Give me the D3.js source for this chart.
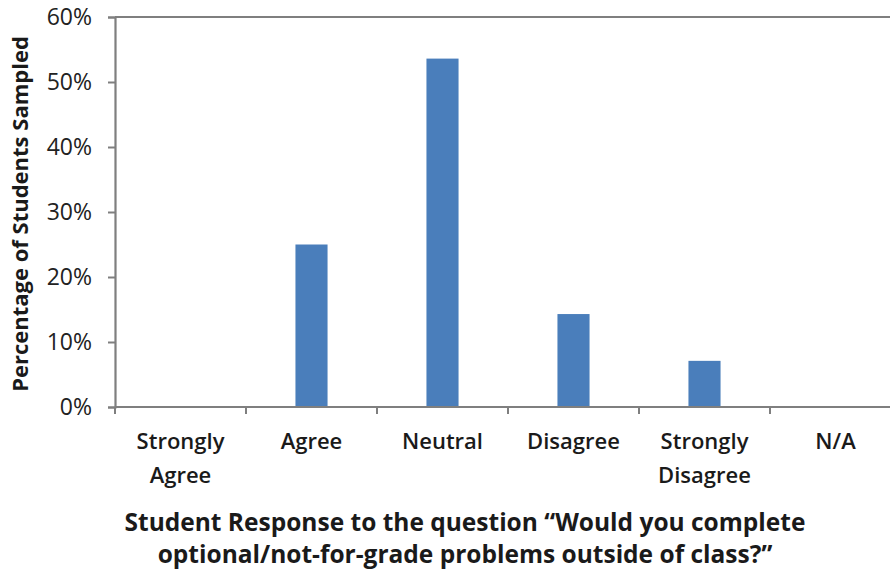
<!DOCTYPE html>
<html>
<head>
<meta charset="utf-8">
<script src="https://cdn.jsdelivr.net/npm/d3@7"></script>
<style>
  html, body { margin: 0; padding: 0; background: #fff; }
  svg { display: block; }
  text { font-family: "Open Sans", "DejaVu Sans", sans-serif; fill: #1a1a1a; }
</style>
</head>
<body>
<svg id="chart" width="890" height="577"></svg>
<script>
// Survey responses (share of 28 students sampled)
const categories = [["Strongly", "Agree"], ["Agree"], ["Neutral"], ["Disagree"], ["Strongly", "Disagree"], ["N/A"]];
const values = [0, 0.25, 0.536, 0.143, 0.071, 0];
const yTicks = [0, 0.1, 0.2, 0.3, 0.4, 0.5, 0.6];
const yTitle = "Percentage of Students Sampled";
const xTitle = ["Student Response to the question \u201cWould you complete", "optional/not-for-grade problems outside of class?\u201d"];

const svg = d3.select("#chart");
const margin = { left: 115, top: 17, bottom: 407 };
const bandW = 131;
const keys = categories.map((d, i) => i);

const x = d3.scaleBand()
  .domain(keys)
  .range([margin.left, margin.left + bandW * keys.length])
  .paddingInner(0.755).paddingOuter(0.3775);
const xEdge = d3.scaleLinear().domain([0, keys.length]).range([margin.left, margin.left + bandW * keys.length]);
const y = d3.scaleLinear().domain([0, 0.6]).range([margin.bottom, margin.top]);

const axisColor = "#7f7f7f";

// Top border line of the plot area
svg.append("line")
  .attr("x1", margin.left).attr("x2", 890)
  .attr("y1", y(0.6)).attr("y2", y(0.6))
  .attr("stroke", axisColor).attr("stroke-width", 2);

// Bars
svg.append("g").selectAll("rect")
  .data(values)
  .join("rect")
  .attr("x", (d, i) => x(i))
  .attr("width", x.bandwidth())
  .attr("y", d => y(d))
  .attr("height", d => y(0) - y(d))
  .attr("fill", "#4a7ebb");

// Y axis
const yAxis = d3.axisLeft(y)
  .tickValues(yTicks)
  .tickFormat(d3.format(".0%"))
  .tickSize(7)
  .tickPadding(16);
const gy = svg.append("g").attr("transform", `translate(${margin.left},0)`).call(yAxis);
gy.select(".domain").attr("stroke", axisColor).attr("stroke-width", 2.2);
gy.selectAll(".tick line").attr("stroke", axisColor).attr("stroke-width", 2);
gy.selectAll(".tick text").style("font-size", "23px").style("fill", "#222").attr("dy", "0.34em");

// X axis with tick marks at category boundaries
const gx = svg.append("g").attr("transform", `translate(0,${margin.bottom})`);
gx.append("line")
  .attr("x1", margin.left).attr("x2", 890)
  .attr("stroke", axisColor).attr("stroke-width", 2.2);
gx.selectAll(".xt")
  .data(d3.range(keys.length + 1))
  .join("line")
  .attr("class", "xt")
  .attr("x1", d => xEdge(d)).attr("x2", d => xEdge(d))
  .attr("y1", 0).attr("y2", 7)
  .attr("stroke", axisColor).attr("stroke-width", 2);

// Category labels
const labels = gx.selectAll(".xl")
  .data(categories)
  .join("text")
  .attr("class", "xl")
  .attr("text-anchor", "middle")
  .attr("transform", (d, i) => `translate(${x(i) + x.bandwidth() / 2},0)`)
  .style("font-size", "22px")
  .style("font-weight", 600);
labels.selectAll("tspan")
  .data(d => d)
  .join("tspan")
  .attr("x", 0)
  .attr("y", (d, j) => 42 + j * 34)
  .text(d => d);

// Y axis title
svg.append("text")
  .attr("transform", `translate(28,214) rotate(-90)`)
  .attr("text-anchor", "middle")
  .style("font-size", "22px")
  .style("font-weight", 700)
  .text(yTitle);

// X axis title
svg.append("text")
  .attr("text-anchor", "middle")
  .style("font-size", "24.5px")
  .style("font-weight", 700)
  .selectAll("tspan")
  .data(xTitle)
  .join("tspan")
  .attr("x", 465)
  .attr("y", (d, j) => 531 + j * 32)
  .text(d => d);
</script>
</body>
</html>
